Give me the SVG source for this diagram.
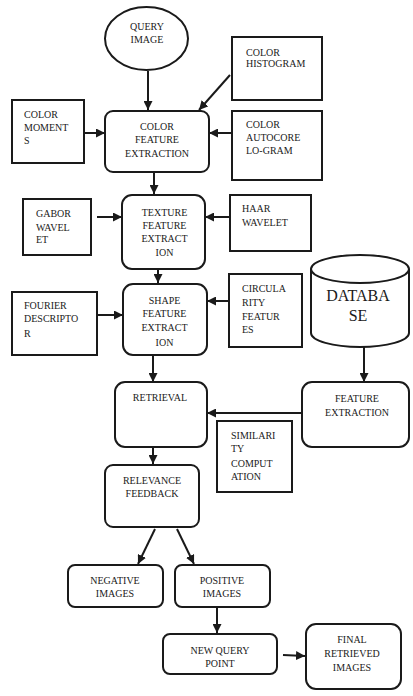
<svg xmlns="http://www.w3.org/2000/svg" width="413" height="696" viewBox="0 0 413 696">
<style>
.b{fill:#fff;stroke:#1a1a1a;stroke-width:2}
.t{font-family:"Liberation Serif","Times New Roman",serif;font-size:10px;fill:#1a1a1a}
.m{text-anchor:middle}
.c{stroke:#1a1a1a;stroke-width:2;fill:none;marker-end:url(#ah)}
</style>
<defs>
<marker id="ah" viewBox="0 0 10 10" refX="10" refY="5" markerWidth="4.5" markerHeight="4.5" orient="auto" markerUnits="strokeWidth">
<path d="M0,0 L10,5 L0,10 Z" fill="#1a1a1a"/>
</marker>
</defs>
<rect width="413" height="696" fill="#fff"/>

<g id="connectors">
<line class="c" x1="148" y1="71" x2="148" y2="110"/>
<line class="c" x1="230" y1="75" x2="199" y2="110"/>
<line class="c" x1="85" y1="133" x2="105" y2="133"/>
<line class="c" x1="232" y1="133" x2="209" y2="133"/>
<line class="c" x1="154" y1="172" x2="154" y2="194"/>
<line class="c" x1="97" y1="217" x2="122" y2="217"/>
<line class="c" x1="230" y1="217" x2="205" y2="217"/>
<line class="c" x1="158" y1="269" x2="158" y2="283"/>
<line class="c" x1="97" y1="315" x2="123" y2="315"/>
<line class="c" x1="229" y1="301" x2="207" y2="301"/>
<line class="c" x1="364" y1="347" x2="364" y2="382"/>
<line class="c" x1="153" y1="355" x2="153" y2="382"/>
<line class="c" x1="302" y1="413" x2="207" y2="413"/>
<line class="c" x1="153" y1="436" x2="153" y2="464"/>
<line class="c" x1="155" y1="529" x2="138" y2="564"/>
<line class="c" x1="177" y1="529" x2="194" y2="564"/>
<line class="c" x1="217" y1="607" x2="217" y2="633"/>
<line class="c" x1="283" y1="655" x2="305" y2="656"/>
</g>

<g id="query-image">
<ellipse class="b" cx="146.5" cy="38.5" rx="41.5" ry="31.5"/>
<text class="t m" x="147" y="29.5">QUERY</text>
<text class="t m" x="147" y="42.5">IMAGE</text>
</g>

<g id="color-histogram">
<rect class="b" x="232" y="37" width="90" height="63"/>
<text class="t" x="246" y="55.5">COLOR</text>
<text class="t" x="246" y="67">HISTOGRAM</text>
</g>

<g id="color-moments">
<rect class="b" x="12" y="100" width="72" height="63"/>
<text class="t" x="24" y="117.5">COLOR</text>
<text class="t" x="24" y="130.5">MOMENT</text>
<text class="t" x="24" y="143.5">S</text>
</g>

<g id="color-feature-extraction">
<rect class="b" x="105" y="111" width="104" height="61" rx="8"/>
<text class="t m" x="157" y="129.5">COLOR</text>
<text class="t m" x="157" y="142.5">FEATURE</text>
<text class="t m" x="157" y="156.5">EXTRACTION</text>
</g>

<g id="color-autocorelogram">
<rect class="b" x="232" y="111" width="90" height="69"/>
<text class="t" x="246" y="127.5">COLOR</text>
<text class="t" x="246" y="140.5">AUTOCORE</text>
<text class="t" x="246" y="153.5">LO-GRAM</text>
</g>

<g id="gabor-wavelet">
<rect class="b" x="23" y="199" width="68" height="56"/>
<text class="t" x="36" y="216.5">GABOR</text>
<text class="t" x="36" y="230.5">WAVEL</text>
<text class="t" x="36" y="242.5">ET</text>
</g>

<g id="texture-feature-extraction">
<rect class="b" x="122" y="195" width="83" height="74" rx="10"/>
<text class="t m" x="164.5" y="215.5">TEXTURE</text>
<text class="t m" x="164.5" y="228.5">FEATURE</text>
<text class="t m" x="164.5" y="241.5">EXTRACT</text>
<text class="t m" x="164.5" y="255.5">ION</text>
</g>

<g id="haar-wavelet">
<rect class="b" x="230" y="195" width="81" height="56"/>
<text class="t" x="242" y="211.5">HAAR</text>
<text class="t" x="242" y="225.5">WAVELET</text>
</g>

<g id="fourier-descriptor">
<rect class="b" x="12" y="292" width="85" height="63"/>
<text class="t" x="24" y="308.5">FOURIER</text>
<text class="t" x="24" y="321.5">DESCRIPTO</text>
<text class="t" x="24" y="336.5">R</text>
</g>

<g id="shape-feature-extraction">
<rect class="b" x="123" y="284" width="84" height="71" rx="10"/>
<text class="t m" x="164.5" y="303.5">SHAPE</text>
<text class="t m" x="164.5" y="316.5">FEATURE</text>
<text class="t m" x="164.5" y="330.5">EXTRACT</text>
<text class="t m" x="164.5" y="345.5">ION</text>
</g>

<g id="circularity-features">
<rect class="b" x="229" y="274" width="73" height="73"/>
<text class="t" x="242" y="291.5">CIRCULA</text>
<text class="t" x="242" y="305.5">RITY</text>
<text class="t" x="242" y="319.5">FEATUR</text>
<text class="t" x="242" y="332.5">ES</text>
</g>

<g id="database">
<path class="b" d="M311,269 L311,333 A49,14 0 0 0 409,333 L409,269"/>
<ellipse class="b" cx="360" cy="269" rx="49" ry="14"/>
<text class="t m" x="358" y="300.5" style="font-size:16px">DATABA</text>
<text class="t m" x="358" y="321" style="font-size:16px">SE</text>
</g>

<g id="retrieval">
<rect class="b" x="115" y="382" width="92" height="65" rx="10"/>
<text class="t m" x="160" y="400.5">RETRIEVAL</text>
</g>

<g id="feature-extraction">
<rect class="b" x="302" y="382" width="107" height="65" rx="10"/>
<text class="t m" x="357" y="401.5">FEATURE</text>
<text class="t m" x="357" y="415.5">EXTRACTION</text>
</g>

<g id="similarity-computation">
<rect class="b" x="217" y="421" width="75" height="71"/>
<text class="t" x="231" y="438.5">SIMILARI</text>
<text class="t" x="231" y="451.5">TY</text>
<text class="t" x="231" y="466.5">COMPUT</text>
<text class="t" x="231" y="479.5">ATION</text>
</g>

<g id="relevance-feedback">
<rect class="b" x="105" y="465" width="94" height="62" rx="8"/>
<text class="t m" x="152" y="483.5">RELEVANCE</text>
<text class="t m" x="152" y="496.5">FEEDBACK</text>
</g>

<g id="negative-images">
<rect class="b" x="68" y="565" width="95" height="42" rx="7"/>
<text class="t m" x="115" y="583.5">NEGATIVE</text>
<text class="t m" x="115" y="596.5">IMAGES</text>
</g>

<g id="positive-images">
<rect class="b" x="175" y="565" width="95" height="42" rx="7"/>
<text class="t m" x="222" y="583.5">POSITIVE</text>
<text class="t m" x="222" y="596.5">IMAGES</text>
</g>

<g id="new-query-point">
<rect class="b" x="163" y="634" width="114" height="40" rx="7"/>
<text class="t m" x="220" y="653.5">NEW QUERY</text>
<text class="t m" x="220" y="666.5">POINT</text>
</g>

<g id="final-retrieved-images">
<rect class="b" x="306" y="624" width="95" height="65" rx="10"/>
<text class="t m" x="352" y="642.5">FINAL</text>
<text class="t m" x="352" y="656.5">RETRIEVED</text>
<text class="t m" x="352" y="670.5">IMAGES</text>
</g>
</svg>
